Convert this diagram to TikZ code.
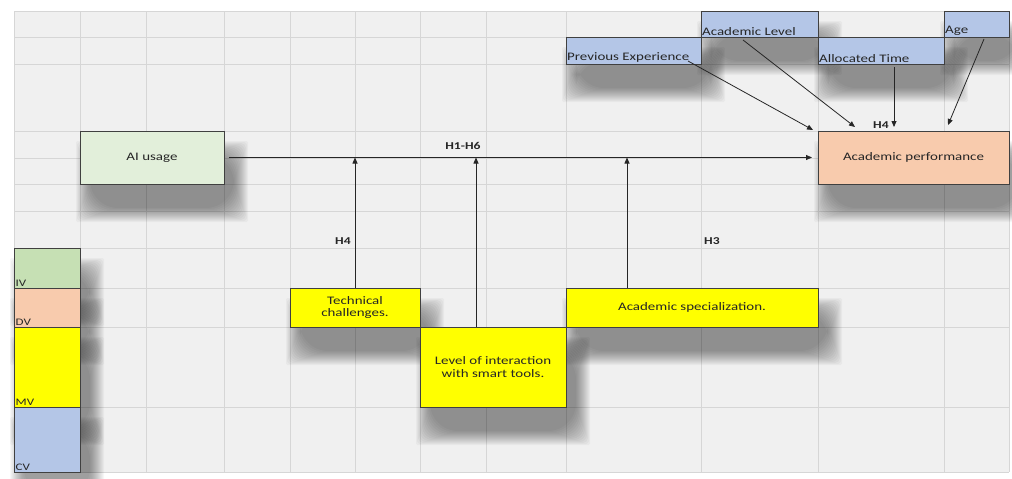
\documentclass[tikz,border=0pt]{standalone}
\usepackage{fontspec}
\setmainfont{Carlito}[FakeStretch=1.3]
\usepackage{tikz}
\usetikzlibrary{arrows.meta,positioning,calc}
\definecolor{ivgreen}{HTML}{C6E0B4}
\definecolor{aigreen}{HTML}{E2EFDA}
\definecolor{dvpeach}{HTML}{F8CBAD}
\definecolor{mvyellow}{HTML}{FFFF00}
\definecolor{cvblue}{HTML}{B4C6E7}
\definecolor{cellgray}{HTML}{F0F0F0}
\definecolor{linegray}{HTML}{D6D6D6}
\pgfdeclarelayer{grid}
\pgfdeclarelayer{shade}
\pgfsetlayers{grid,shade,main}

\begin{document}
\begin{tikzpicture}[
  x=1pt, y=-1pt,
  node distance=0pt,
  box/.style={draw=black!75, line width=0.8pt, outer sep=0pt, inner sep=2pt, align=center, text=black!85,
    font=\fontsize{11.5}{12.5}\selectfont, anchor=north west},
  var/.style={box, label={[anchor=south west, inner sep=1pt, text=black!85, font=\fontsize{11.5}{12}\selectfont]south west:#1}},
  leg/.style={box, minimum width=66, label={[anchor=south west, inner sep=1.5pt, text=black!85, font=\fontsize{10}{11}\selectfont]south west:#1}},
  hlab/.style={font=\fontsize{10.5}{11}\selectfont\bfseries, text=black!85, inner sep=1pt},
  arr/.style={-{Triangle[length=6pt, width=5pt]}, line width=0.8pt, draw=black!85}
]
\useasboundingbox (0,0) rectangle (1012,479);
\begin{pgfonlayer}{grid}
\fill[cellgray] (14,11) rectangle (1009,472);
\foreach \gx in {14,80,146,224,290,355,420,486,566,701,818,944,1009}
  \draw[linegray, line width=0.8pt] (\gx,11) -- (\gx,472);
\foreach \gy in {11,37,64,131,158,184,211,248,288,327,407,472}
  \draw[linegray, line width=0.8pt] (14,\gy) -- (1009,\gy);
\end{pgfonlayer}

\node[leg=IV, fill=ivgreen, minimum height=40] (iv) at (14,248) {};
\node[leg=DV, fill=dvpeach, minimum height=39, below=of iv] (dv) {};
\node[leg=MV, fill=mvyellow, minimum height=80, below=of dv] (mv) {};
\node[leg=CV, fill=cvblue, minimum height=65, below=of mv] (cv) {};

\node[box, fill=aigreen, minimum width=144, minimum height=53] (ai) at (80,131) {AI usage};
\node[box, fill=dvpeach, minimum width=191, minimum height=53] (perf) at (818,131) {Academic performance};

\node[var=Previous Experience, fill=cvblue, minimum width=135, minimum height=27] (prev) at (566,37) {};
\node[var=Academic Level, fill=cvblue, minimum width=117, minimum height=26, above right=of prev.north east] (lev) {};
\node[var=Allocated Time, fill=cvblue, minimum width=126, minimum height=27, below right=of lev.south east] (alloc) {};
\node[var=Age, fill=cvblue, minimum width=65, minimum height=26, above right=of alloc.north east] (age) {};

\node[box, fill=mvyellow, minimum width=130, minimum height=39] (tech) at (290,288) {Technical\\challenges.};
\node[box, fill=mvyellow, minimum width=146, minimum height=80, below right=of tech.south east] (inter) {Level of interaction\\with smart tools.};
\node[box, fill=mvyellow, minimum width=252, minimum height=39, above right=of inter.north east] (spec) {Academic specialization.};

\begin{pgfonlayer}{shade}
\foreach \nd in {iv,dv,mv,cv,ai,perf,prev,lev,alloc,age,tech,inter,spec}
  \foreach \kk [evaluate=\kk as \sp using 24-2.2*\kk, evaluate=\kk as \rc using 28-1.9*\kk] in {0,...,14}
    \fill[black, opacity=0.03, rounded corners=\rc pt]
      ($(\nd.north west)+(10-\sp,24-\sp)$) rectangle ($(\nd.south east)+(10+\sp,24+\sp)$);
\end{pgfonlayer}

\node[hlab] (h16) at (463,146) {H1-H6};
\node[hlab] (h4a) at (343,241) {H4};
\node[hlab] (h3) at (712,241) {H3};
\node[hlab] (h4b) at (881,125) {H4};

\draw[arr] ([xshift=5pt]ai.east) -- ([xshift=-6pt]perf.west);
\draw[arr] (tech.north) -- (tech.north |- ai.east);
\draw[arr] ([xshift=-17pt]inter.north) -- ([xshift=-17pt]inter.north |- ai.east);
\draw[arr] ([xshift=-65pt]spec.north) -- ([xshift=-65pt]spec.north |- ai.east);
\draw[arr] ([xshift=-13pt, yshift=3pt]prev.south east) -- ([xshift=-5pt, yshift=1pt]perf.north west);
\draw[arr] ([xshift=-16.5pt, yshift=-3pt]lev.south) -- ([xshift=37pt, yshift=4pt]perf.north west);
\draw[arr] ([xshift=13pt, yshift=-3pt]alloc.south) -- ([xshift=13pt, yshift=4pt]alloc.south |- perf.north);
\draw[arr] ([xshift=7.5pt, yshift=-2pt]age.south) -- ([xshift=4pt, yshift=6pt]age.south west |- perf.north);
\end{tikzpicture}
\end{document}
